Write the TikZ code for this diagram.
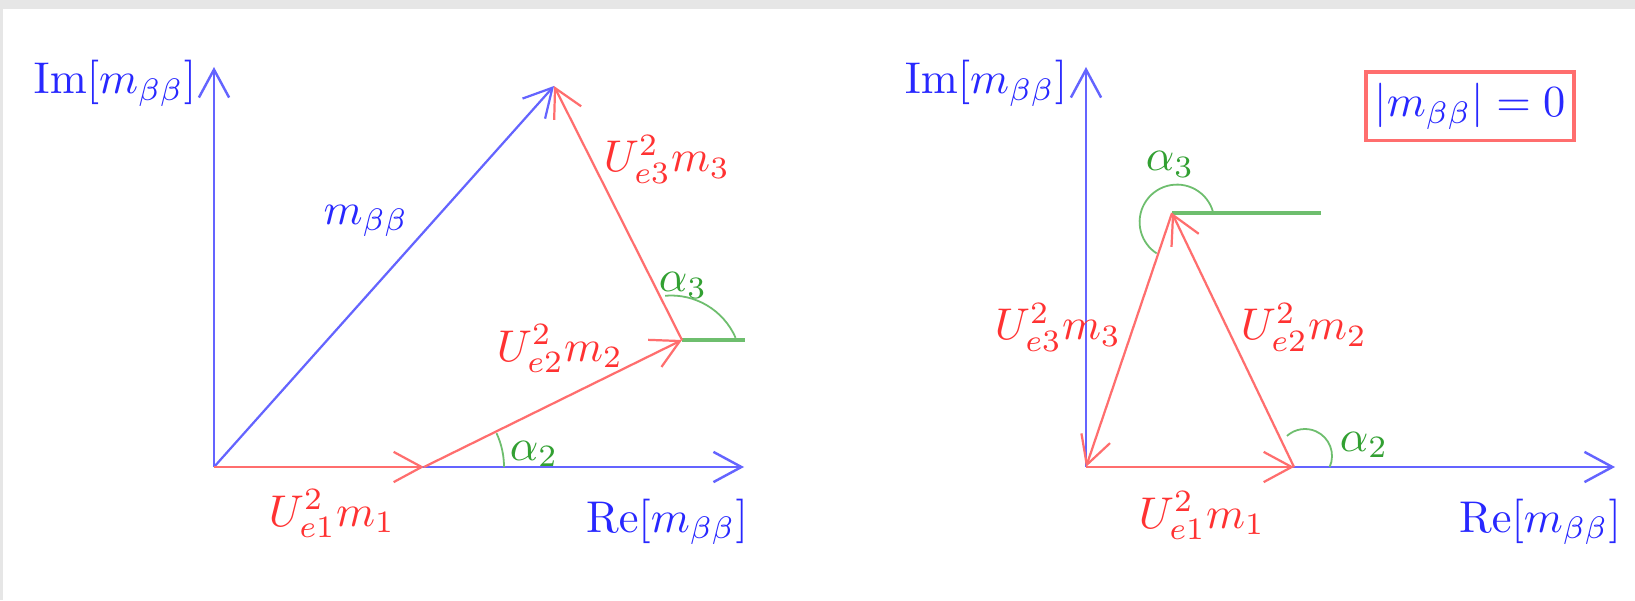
\documentclass[tikz,border=0pt]{standalone}
\usetikzlibrary{arrows.meta}
\definecolor{axisblue}{RGB}{100,100,255}
\definecolor{vecred}{RGB}{255,110,110}
\definecolor{txtred}{RGB}{255,50,50}
\definecolor{angreen}{RGB}{110,190,110}
\definecolor{txtgreen}{RGB}{50,160,50}
\definecolor{txtblue}{RGB}{40,40,255}
\definecolor{framegray}{RGB}{230,230,230}
\begin{document}
\begin{tikzpicture}[x=0.225pt,y=0.225pt,
  barbtip/.style={-{Straight Barb[length=6.3pt,width=6.8pt]}},
  axisline/.style={draw=axisblue,line width=0.55pt,barbtip},
  vecline/.style={draw=vecred,line width=0.5pt,barbtip},
  sumline/.style={draw=axisblue,line width=0.5pt,barbtip},
  refline/.style={draw=angreen,line width=0.8pt},
  angarc/.style={draw=angreen,line width=0.4pt},
  lblb/.style={text=txtblue,anchor=base,inner sep=0pt},
  lblr/.style={text=txtred,anchor=base,inner sep=0pt},
  lblg/.style={text=txtgreen,anchor=base,inner sep=0pt},
  condbox/.style={draw=vecred,line width=0.7pt,text=txtblue,minimum width=46.8pt,minimum height=15.5pt,inner sep=0pt}]
\useasboundingbox (0,0) rectangle (1635,600);
\fill[framegray] (0,0) rectangle (1635,600);
\fill[white] (3,0) rectangle (1635,591);
% ---------- left diagram ----------
\coordinate (O1) at (214,133);
\coordinate (I1) at (214,533);
\coordinate (R1) at (744,133);
\coordinate (A1) at (424,133);
\coordinate (B1) at (682,260);
\coordinate (C1) at (554,514);
\coordinate (G1) at (745,260);
\draw[axisline] (O1) -- (I1);
\draw[axisline] (O1) -- (R1);
\draw[angarc] (A1) ++(80,0) arc[start angle=0,end angle=25,radius=80];
\draw[angarc] (671,234) ++(23.6:70.5) arc[start angle=23.6,end angle=94.8,radius=70.5];
\draw[refline] (B1) -- (G1);
\draw[sumline] (O1) -- (C1);
\draw[vecline] (O1) -- (A1);
\draw[vecline] (A1) -- (B1);
\draw[vecline] (B1) -- (C1);
\node[lblb] (im1) at (115,506) {$\mathrm{Im}[m_{\beta\beta}]$};
\node[lblb] (re1) at (667,68) {$\mathrm{Re}[m_{\beta\beta}]$};
\node[lblb] (mbb1) at (366,376) {$m_{\beta\beta}$};
\node[lblr] (u31) at (667,428) {$U^2_{e3}m_3$};
\node[lblr] (u21) at (560,239) {$U^2_{e2}m_2$};
\node[lblr] (u11) at (332,74) {$U^2_{e1}m_1$};
\node[lblg] (a31) at (683,308) {$\alpha_3$};
\node[lblg] (a21) at (534,140) {$\alpha_2$};
% ---------- right diagram ----------
\coordinate (O2) at (1086,133);
\coordinate (I2) at (1086,533);
\coordinate (R2) at (1615,133);
\coordinate (A2) at (1294,133);
\coordinate (B2) at (1172,387);
\coordinate (G2) at (1321,387);
\draw[axisline] (O2) -- (I2);
\draw[axisline] (O2) -- (R2);
\draw[angarc] (1305,144) ++(-24:27) arc[start angle=-24,end angle=132,radius=27];
\draw[angarc] (1177,378) ++(15.5:37.4) arc[start angle=15.5,end angle=237,radius=37.4];
\draw[refline] (B2) -- (G2);
\draw[vecline] (O2) -- (A2);
\draw[vecline] (A2) -- (B2);
\draw[vecline] (B2) -- (O2);
\node[lblb] (im2) at (986,506) {$\mathrm{Im}[m_{\beta\beta}]$};
\node[lblb] (re2) at (1540,68) {$\mathrm{Re}[m_{\beta\beta}]$};
\node[lblr] (u32) at (1058,260) {$U^2_{e3}m_3$};
\node[lblr] (u22) at (1304,260) {$U^2_{e2}m_2$};
\node[lblr] (u12) at (1202,72) {$U^2_{e1}m_1$};
\node[lblg] (a32) at (1170,429) {$\alpha_3$};
\node[lblg] (a22) at (1364,149) {$\alpha_2$};
\node[condbox] (cond) at (1470,493.5) {$|m_{\beta\beta}| = 0$};
\end{tikzpicture}
\end{document}
